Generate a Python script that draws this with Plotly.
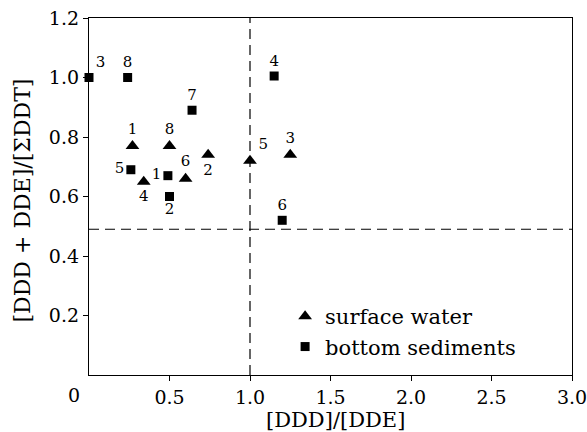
import plotly.graph_objects as go

# Surface water (triangles)
sw_x = [0.27, 0.74, 1.25, 0.34, 1.00, 0.60, 0.50]
sw_y = [0.77, 0.74, 0.74, 0.65, 0.72, 0.66, 0.77]
sw_lab = ["1", "2", "3", "4", "5", "6", "8"]
sw_pos = ["top center", "bottom center", "top center", "bottom center",
          "top right", "top center", "top center"]

# Bottom sediments (squares)
bs_x = [0.49, 0.50, 0.00, 1.15, 0.26, 1.20, 0.64, 0.24]
bs_y = [0.67, 0.60, 1.00, 1.005, 0.69, 0.52, 0.89, 1.00]
bs_lab = ["1", "2", "3", "4", "5", "6", "7", "8"]
bs_pos = ["middle left", "bottom center", "top right", "top center",
          "middle left", "top center", "top center", "top center"]

x_ref = 1.0
y_ref = 0.49

x_ticks = [0.5, 1.0, 1.5, 2.0, 2.5, 3.0]
x_ticktext = ["0.5", "1.0", "1.5", "2.0", "2.5", "3.0"]
y_ticks = [0.2, 0.4, 0.6, 0.8, 1.0, 1.2]
y_ticktext = ["0.2", "0.4", "0.6", "0.8", "1.0", "1.2"]

FONT = "DejaVu Serif"
TICK = 19
TITLE = 21

fig = go.Figure()
fig.add_trace(go.Scatter(
    x=sw_x, y=sw_y, mode="markers+text", text=sw_lab, textposition=sw_pos,
    textfont=dict(family=FONT, size=15, color="black"),
    marker=dict(symbol="triangle-up", size=12, color="black"),
    name="surface water", cliponaxis=False))
fig.add_trace(go.Scatter(
    x=bs_x, y=bs_y, mode="markers+text", text=bs_lab, textposition=bs_pos,
    textfont=dict(family=FONT, size=15, color="black"),
    marker=dict(symbol="square", size=9, color="black"),
    name="bottom sediments", cliponaxis=False))

fig.add_vline(x=x_ref, line=dict(color="black", width=1.2, dash="10px,6px"))
fig.add_hline(y=y_ref, line=dict(color="black", width=1.2, dash="10px,6px"))

# shared corner label "0"
fig.add_annotation(x=0, y=0, xref="paper", yref="paper", text="0",
                   showarrow=False, xanchor="center", yanchor="middle",
                   xshift=-15, yshift=-20,
                   font=dict(family=FONT, size=TICK, color="black"))
# axis titles
fig.add_annotation(x=0.5, y=0, xref="paper", yref="paper", text="[DDD]/[DDE]",
                   showarrow=False, xanchor="center", yanchor="middle",
                   xshift=5, yshift=-45,
                   font=dict(family=FONT, size=TITLE, color="black"))
fig.add_annotation(x=0, y=0.5, xref="paper", yref="paper",
                   text="[DDD + DDE]/[ΣDDT]", textangle=-90,
                   showarrow=False, xanchor="center", yanchor="middle",
                   xshift=-67, yshift=-4,
                   font=dict(family=FONT, size=22, color="black"))

fig.update_xaxes(range=[0, 3.0], tickvals=x_ticks, ticktext=x_ticktext,
                 ticks="outside", ticklen=5, tickcolor="black",
                 ticklabeloverflow="allow",
                 showline=True, linecolor="black", linewidth=1.3, mirror=True,
                 showgrid=False, zeroline=False, automargin=False,
                 tickfont=dict(family=FONT, size=TICK, color="black"))
fig.update_yaxes(range=[0, 1.2], tickvals=y_ticks, ticktext=y_ticktext,
                 ticks="outside", ticklen=5, tickcolor="black",
                 ticklabeloverflow="allow",
                 showline=True, linecolor="black", linewidth=1.3, mirror=True,
                 showgrid=False, zeroline=False, automargin=False,
                 tickfont=dict(family=FONT, size=TICK, color="black"))

fig.update_layout(
    width=587, height=432,
    margin=dict(l=89, r=15, t=18, b=57),
    plot_bgcolor="white", paper_bgcolor="white",
    font=dict(family=FONT, color="black"),
    showlegend=True,
    legend=dict(x=0.406, y=0.221, xanchor="left", yanchor="top",
                bgcolor="rgba(0,0,0,0)",
                font=dict(family=FONT, size=21, color="black"),
                tracegroupgap=0),
)

fig.write_html("out.html", config={"displayModeBar": False},
               post_script="document.body.style.margin='0';")
